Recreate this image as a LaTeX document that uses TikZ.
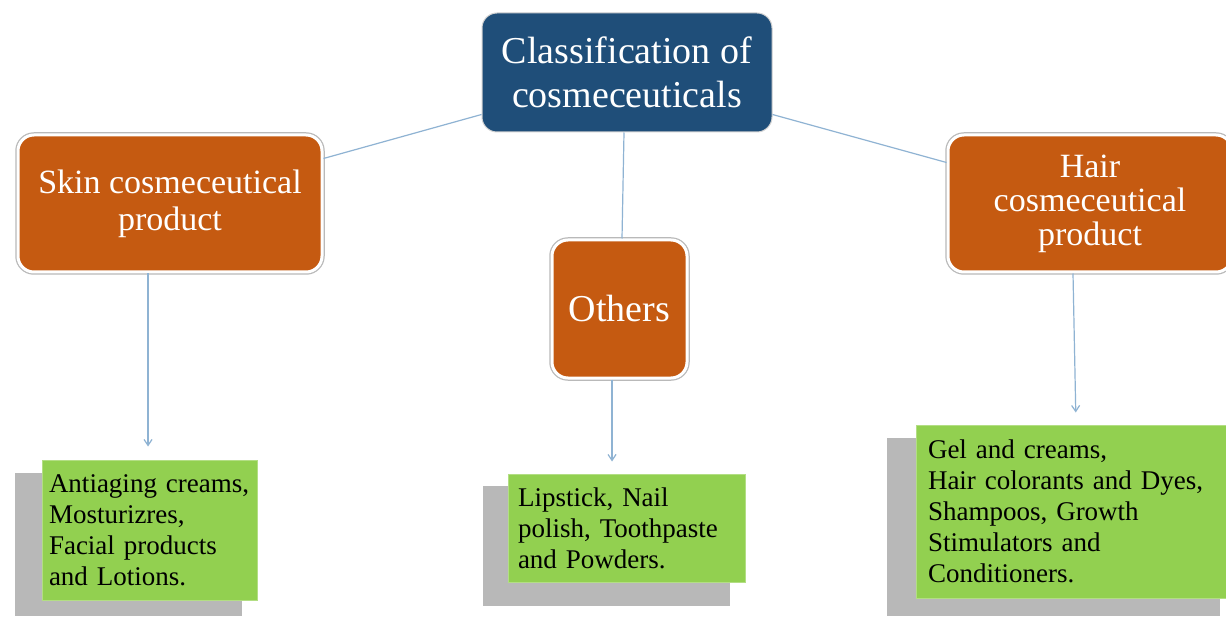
\documentclass[tikz,border=0pt]{standalone}
\usepackage{fontspec}
\setmainfont{Liberation Serif}
\usetikzlibrary{arrows.meta,calc}
\definecolor{titleblue}{HTML}{1F4E79}
\definecolor{orangebox}{HTML}{C55A11}
\definecolor{greenbox}{HTML}{92D050}
\definecolor{linkblue}{HTML}{8FB3D3}
\tikzset{
  catbox/.style={rounded corners=16pt, fill=orangebox, draw=white, line width=3pt,
    preaction={draw=gray!55, line width=5.5pt, rounded corners=16pt},
    text=white, align=center, inner sep=0pt},
  titlebox/.style={rounded corners=15pt, fill=titleblue, draw=gray!35, line width=1pt,
    text=white, align=center, inner sep=0pt, font=\fontsize{38}{44}\selectfont},
  leafbox/.style={fill=greenbox, draw=greenbox!70!white, line width=1pt, align=left,
    text=black, font=\fontsize{27}{31}\selectfont, inner ysep=0pt},
  shadowbox/.style={fill=black!28},
  link/.style={draw=linkblue, line width=1.2pt},
  arr/.style={link, -{Straight Barb[length=6pt,width=8pt]}}
}
\begin{document}
\begin{tikzpicture}[x=1pt,y=-1pt]
\useasboundingbox (0,0) rectangle (1226,620);
\fill[white] (0,0) rectangle (1226,620);
% top
\node[titlebox, minimum width=290pt, minimum height=119pt] (title) at (627,72.5)
  {Classification of\\cosmeceuticals};
% categories
\node[catbox, minimum width=304pt, minimum height=137pt, font=\fontsize{34}{37}\selectfont] (skin) at (170,203.5)
  {Skin cosmeceutical\\product};
\node[catbox, minimum width=135pt, minimum height=138pt, font=\fontsize{38}{44}\selectfont] (others) at (619.5,309)
  {Others};
\node[catbox, minimum width=284pt, minimum height=137pt, font=\fontsize{34}{34}\selectfont] (hair) at (1090,203.5)
  {Hair\\cosmeceutical\\product};
% leaf shadows and leaves
\coordinate (gs) at (149.5,530);
\coordinate (go) at (626.5,528);
\coordinate (gh) at (1074,511.5);
\fill[shadowbox] (42-27,460+13) rectangle (257-15,600+16);
\fill[shadowbox] (508-25,474+12) rectangle (745-15,582+24);
\fill[shadowbox] (916-29,425+13) rectangle (1232-12,598+18);
\node[leafbox, text width=201pt, inner xsep=7pt, minimum height=140pt] (gskin) at (gs)
  {\mbox{Antiaging creams,}\\Mosturizres,\\Facial products\\and Lotions.};
\node[leafbox, text width=217pt, inner xsep=10pt, minimum height=108pt] (gothers) at (go)
  {Lipstick, Nail\\polish, Toothpaste\\and Powders.};
\node[leafbox, text width=292pt, inner xsep=12pt, minimum height=173pt] (ghair) at (gh)
  {Gel and creams,\\Hair colorants and Dyes,\\Shampoos, Growth\\Stimulators and\\Conditioners.};
% connectors
\draw[link] ([yshift=-42pt]title.west) -- ([yshift=45pt]skin.east);
\draw[link] ([yshift=-42pt]title.east) -- ([yshift=41pt]hair.west);
\draw[link] ([xshift=-3pt]title.south) -- ([xshift=2.5pt]others.north);
\draw[arr, shorten >=13pt] ([xshift=-22pt]skin.south) -- ([xshift=-1.5pt]gskin.north);
\draw[arr, shorten >=12pt] ([xshift=-7.5pt]others.south) -- ([xshift=-14.5pt]gothers.north);
\draw[arr, shorten >=12pt] ([xshift=-17pt]hair.south) -- ([xshift=2pt]ghair.north);
\end{tikzpicture}
\end{document}
